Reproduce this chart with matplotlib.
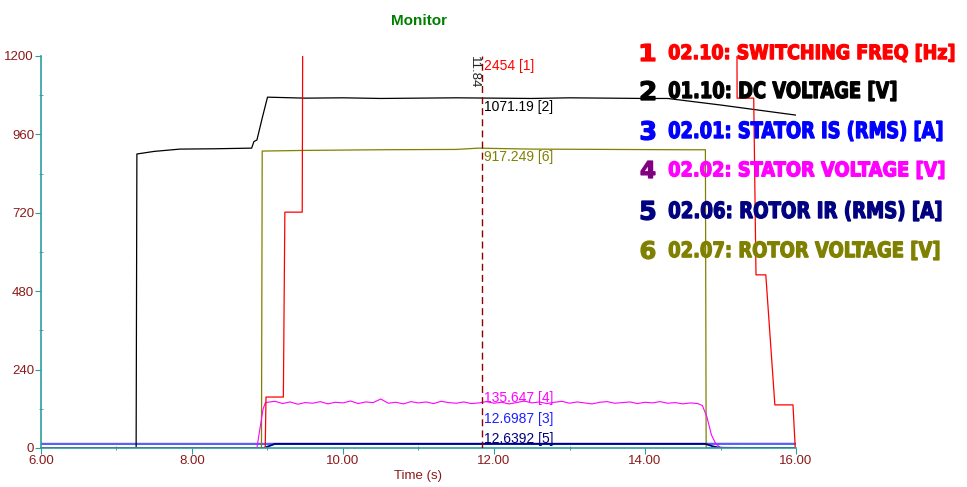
import numpy as np
import matplotlib
matplotlib.use("Agg")
import matplotlib.pyplot as plt
from matplotlib.ticker import MultipleLocator, FormatStrFormatter
from matplotlib.textpath import TextPath
from matplotlib.font_manager import FontProperties
from matplotlib.patches import PathPatch
from matplotlib.path import Path

# ---- data ----
red_t = [6.0, 8.97, 8.98, 9.21, 9.23, 9.46, 9.48, 15.2, 15.22, 15.44, 15.47, 15.6, 15.72, 15.96, 15.99, 16.0]
red_v = [0, 0, 156, 156, 722, 722, 2454, 2454, 1071, 1071, 530, 530, 132, 132, 0, 0]

dc_t = [6.0, 7.26, 7.27, 7.5, 7.84, 8.3, 8.79, 8.82, 8.86, 8.93, 9.0, 9.5, 10.0, 10.5,
        11.0, 11.5, 12.0, 12.5, 13.0, 13.5, 14.0, 14.3, 15.0, 16.0]
dc_v = [0, 0, 900, 908, 915, 916, 918, 938, 943, 1010, 1074, 1071, 1072, 1070,
        1071, 1072, 1071, 1070, 1072, 1071, 1070, 1070, 1050, 1019]

rv_t = [6.0, 8.92, 8.93, 9.5, 10.5, 11.5, 11.8, 12.0, 12.5, 13.5, 14.5, 14.8, 14.81, 16.0]
rv_v = [0, 0, 909, 911, 913, 914, 918, 917, 915, 914, 913, 913, 0, 0]

sv_noise = [140, 143, 136, 141, 134, 139, 137, 142, 135, 140, 138, 144, 136, 141, 139, 150,
            137, 140, 135, 142, 138, 141, 136, 143, 139, 137, 141, 136, 138, 142, 137, 140,
            135, 139, 144, 138, 141, 136, 140, 143, 137, 141, 138, 135, 140, 142, 137, 139,
            141, 136, 140, 138, 142, 137, 139, 135, 138, 136]
sv_t = [6.0, 8.86, 8.9, 8.94, 8.97] + list(np.round(np.arange(9.0, 14.75, 0.1), 2)) + \
       [14.76, 14.82, 14.88, 14.94, 15.0, 16.0]
sv_v = [0, 0, 60, 118, 138] + sv_noise + [130, 95, 40, 12, 2, 0]

is_t = [6.0, 8.95, 9.1, 16.0]
is_v = [12.5, 12.5, 12.7, 12.7]

ir_t = [6.0, 8.95, 9.1, 14.8, 14.9, 15.0, 16.0]
ir_v = [0, 0, 12.6, 12.6, 5, 0, 0]

cursor_t = 11.84
readouts = ["2454 [1]", "1071.19 [2]", "917.249 [6]", "135.647 [4]", "12.6987 [3]", "12.6392 [5]"]
legend_nums = ["1", "2", "3", "4", "5", "6"]
legend_labels = ["02.10: SWITCHING FREQ [Hz]", "01.10: DC VOLTAGE [V]", "02.01: STATOR IS (RMS) [A]",
                 "02.02: STATOR VOLTAGE [V]", "02.06: ROTOR IR (RMS) [A]", "02.07: ROTOR VOLTAGE [V]"]

# ---- style ----
W, H = 967, 487
tick_col = "#8b1a1a"
axis_col = "#2e9e9e"
plt.rcParams["font.family"] = ["Liberation Sans", "DejaVu Sans"]

fig = plt.figure(figsize=(W / 100, H / 100), dpi=100)
ax = fig.add_axes([41 / W, 1 - 448 / H, 755 / W, 392 / H])

ax.plot(is_t, is_v, color="#5c5cff", lw=1.6, zorder=2)
ax.plot(rv_t, rv_v, color="#808000", lw=0.9, zorder=2)
ax.plot(dc_t, dc_v, color="black", lw=0.9, zorder=2)
ax.plot(sv_t, sv_v, color="#ff00ff", lw=0.8, zorder=2)
ax.plot(ir_t, ir_v, color="#000080", lw=1.3, zorder=2)
ax.plot(red_t, red_v, color="red", lw=0.9, zorder=2)

ax.axvline(cursor_t, color="#8b0000", lw=1.0, ls=(0, (5, 3)), zorder=3)

ax.set_xlim(6, 16)
ax.set_ylim(0, 1200)
ax.xaxis.set_major_locator(MultipleLocator(2))
ax.xaxis.set_minor_locator(MultipleLocator(1))
ax.yaxis.set_major_locator(MultipleLocator(240))
ax.yaxis.set_minor_locator(MultipleLocator(120))
ax.xaxis.set_major_formatter(FormatStrFormatter("%.2f"))

for s in ["top", "right"]:
    ax.spines[s].set_visible(False)
for s in ["left", "bottom"]:
    ax.spines[s].set_color(axis_col)
    ax.spines[s].set_linewidth(1.2)
ax.tick_params(which="major", color=axis_col, labelcolor=tick_col, labelsize=9.5, length=4, pad=1)
ax.tick_params(which="minor", color=axis_col, length=3, direction="inout")

ax.set_title("Monitor", color="#008000", fontweight="bold", fontsize=11, pad=22)
ax.set_xlabel("Time (s)", color=tick_col, fontsize=9.5, labelpad=2)

# cursor readouts
ax.text(cursor_t - 0.02, 1.0, "11.84", rotation=270, ha="right", va="top",
        transform=ax.get_xaxis_transform(), fontsize=9.5, color="#222222")
readout_cols = ["red", "black", "#808000", "#ff00ff", "#2020ff", "#000080"]
readout_y = [1169, 1044, 891, 153, 89, 28]
for txt, col, y in zip(readouts, readout_cols, readout_y):
    ax.text(cursor_t + 0.03, y, txt, color=col, fontsize=10, va="center", ha="left", zorder=4)


# custom legend: heavy text squeezed into the boxes the reference uses
def boxed_text(s, x0, x1, top, bottom, color):
    tp = TextPath((0, 0), s, size=10, prop=FontProperties(family="DejaVu Sans", weight="bold"))
    ext = tp.get_extents()
    v = tp.vertices.copy()
    v[:, 0] = x0 + (v[:, 0] - ext.x0) * (x1 - x0) / ext.width
    v[:, 1] = (H - bottom) + (v[:, 1] - ext.y0) * (bottom - top) / ext.height
    v[:, 0] /= W
    v[:, 1] /= H
    fig.add_artist(PathPatch(Path(v, tp.codes), transform=fig.transFigure,
                             facecolor=color, edgecolor=color, linewidth=0.9,
                             joinstyle="miter", zorder=5))


num_cols = ["red", "black", "blue", "#800080", "#000080", "#808000"]
lab_cols = ["red", "black", "blue", "#ff00ff", "#000080", "#808000"]
row_top = [44, 81, 121, 161, 201, 241]
row_bot = [62, 101, 141, 179, 221, 260]
lab_right = [954, 896, 942, 944, 941, 939]
for n, lab, nc, lc, t, b, xr in zip(legend_nums, legend_labels, num_cols, lab_cols,
                                     row_top, row_bot, lab_right):
    boxed_text(n, 641, 655, t, b - 1, nc)
    boxed_text(lab, 669, xr, t, b, lc)

fig.savefig("out.png", dpi=100)
